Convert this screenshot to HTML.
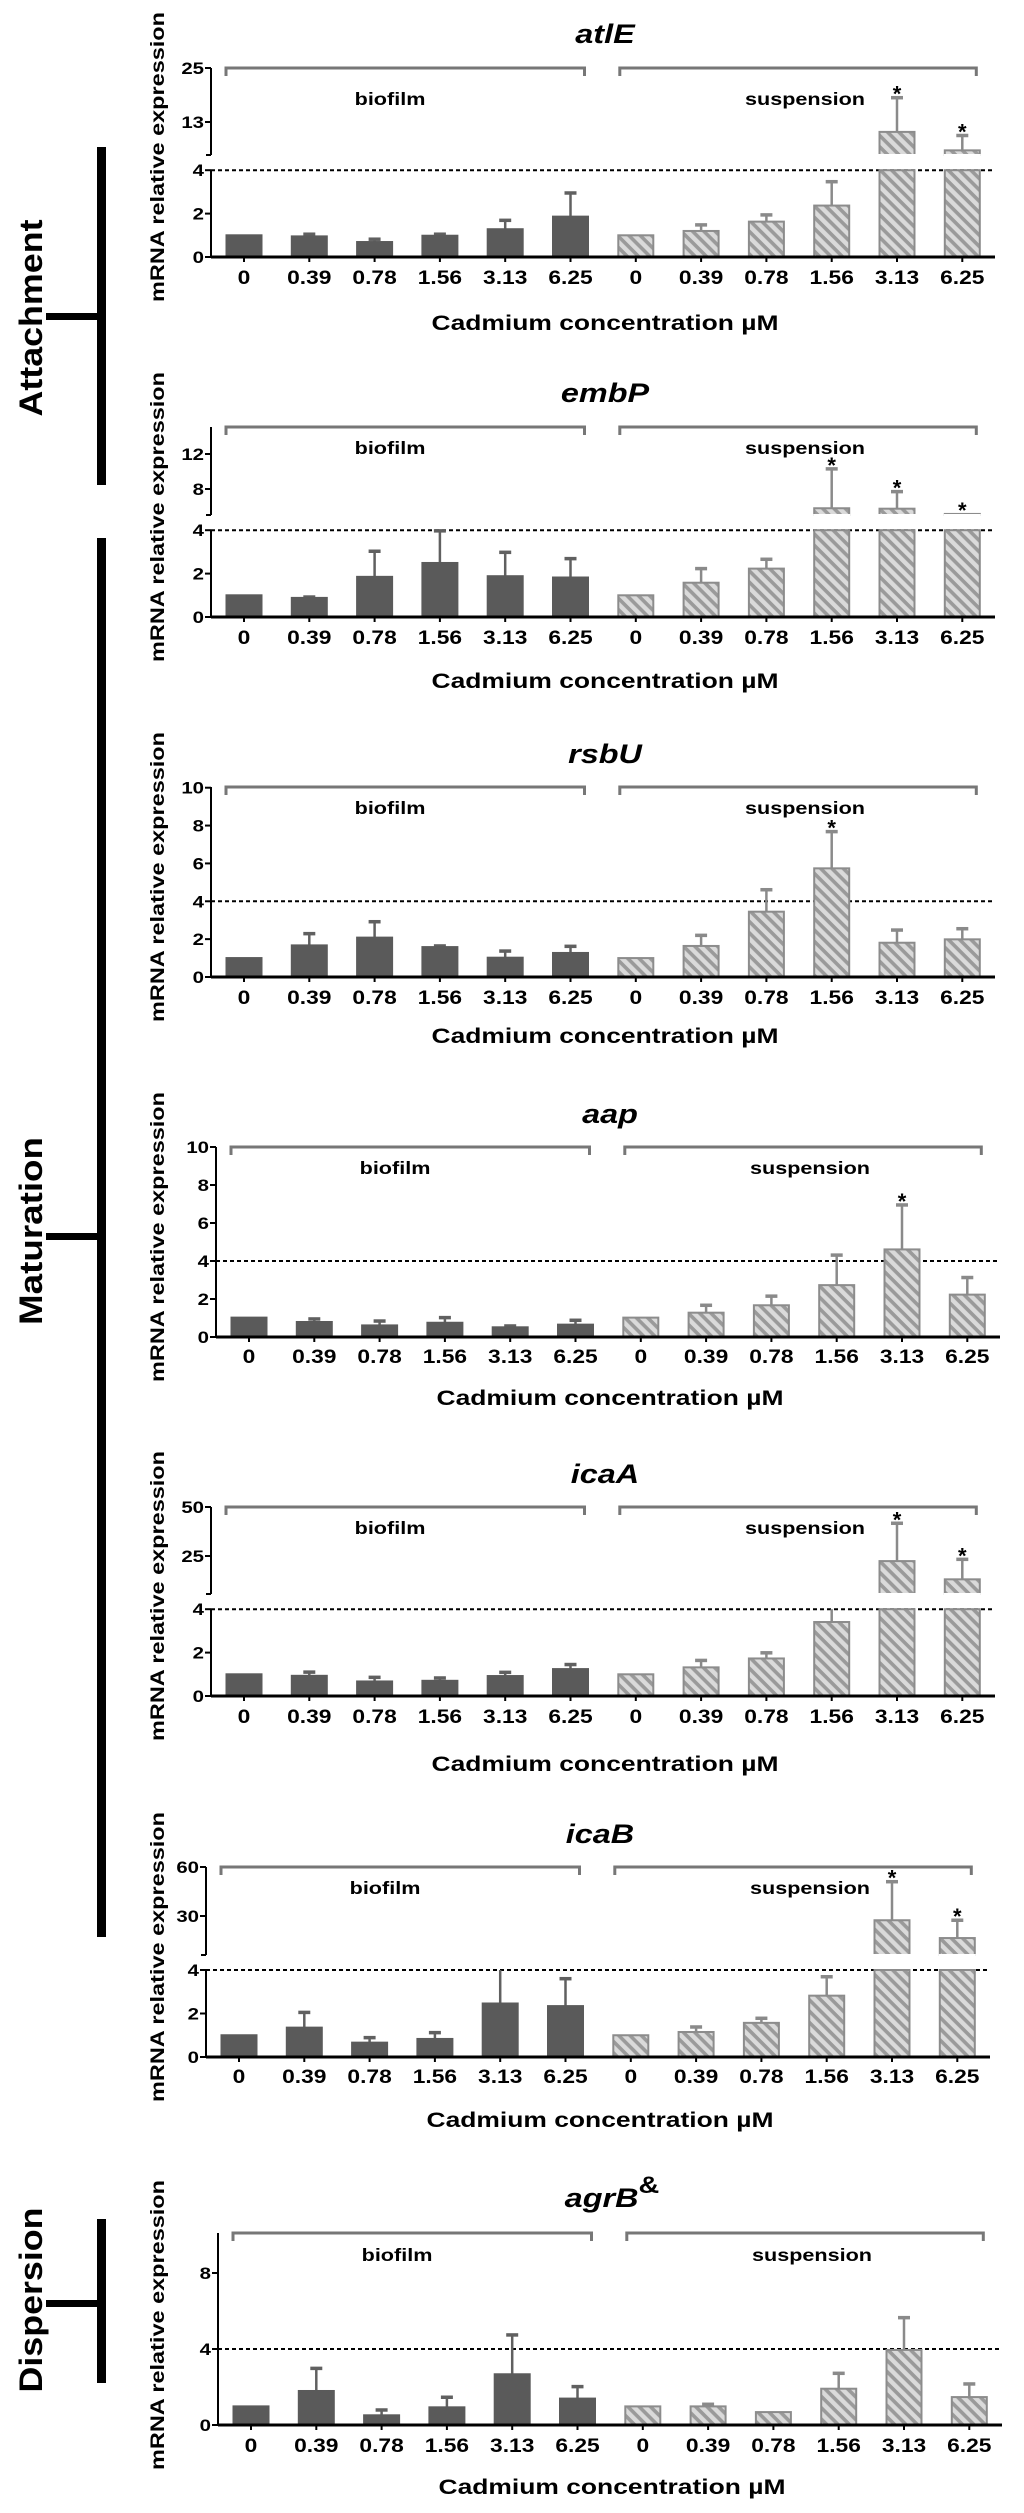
<!DOCTYPE html>
<html><head><meta charset="utf-8"><title>Cadmium gene expression</title>
<style>
html,body{margin:0;padding:0;background:#fff;}
svg{display:block;font-family:"Liberation Sans",Arial,sans-serif;}
</style></head>
<body>
<svg id="fig" width="1024" height="2513" viewBox="0 0 1024 2513" xmlns="http://www.w3.org/2000/svg">
<defs>
<pattern id="hatch" patternUnits="userSpaceOnUse" width="8" height="8" patternTransform="rotate(45)">
<rect width="8" height="8" fill="#dadada"/>
<rect width="8" height="3.6" fill="#9a9a9a"/>
</pattern>
</defs>
<g>
<text transform="translate(42,318) rotate(-90)" text-anchor="middle" font-size="32" font-weight="bold" textLength="197" lengthAdjust="spacingAndGlyphs">Attachment</text>
<rect x="97" y="147" width="9" height="338" fill="#000"/>
<rect x="46" y="313" width="55" height="7" fill="#000"/>
<text transform="translate(42,1231) rotate(-90)" text-anchor="middle" font-size="32" font-weight="bold" textLength="188" lengthAdjust="spacingAndGlyphs">Maturation</text>
<rect x="97" y="538" width="9" height="1399" fill="#000"/>
<rect x="46" y="1233" width="55" height="7" fill="#000"/>
<text transform="translate(42,2300) rotate(-90)" text-anchor="middle" font-size="32" font-weight="bold" textLength="185" lengthAdjust="spacingAndGlyphs">Dispersion</text>
<rect x="97" y="2219" width="9" height="164" fill="#000"/>
<rect x="46" y="2300" width="55" height="7" fill="#000"/>
</g>
</svg>
<script>
const categories = ['0','0.39','0.78','1.56','3.13','6.25'];

const atlE_biofilm = [1.0,0.95,0.69,0.98,1.28,1.86];
const atlE_biofilm_sd = [0,0.10,0.13,0.07,0.41,1.09];
const atlE_susp = [1.0,1.2,1.63,2.37,10.8,6.7];
const atlE_susp_sd = [0,0.28,0.31,1.1,7.6,3.3];
const atlE_stars = [4,5];

const embP_biofilm = [1.0,0.88,1.85,2.49,1.88,1.82];
const embP_biofilm_sd = [0,0.04,1.18,1.48,1.1,0.87];
const embP_susp = [1.0,1.58,2.23,5.8,5.75,5.15];
const embP_susp_sd = [0,0.65,0.43,4.5,1.95,0];
const embP_stars = [3,4,5];

const rsbU_biofilm = [1.0,1.67,2.08,1.58,1.02,1.27];
const rsbU_biofilm_sd = [0,0.62,0.84,0.06,0.35,0.35];
const rsbU_susp = [1.0,1.64,3.45,5.74,1.81,1.99];
const rsbU_susp_sd = [0,0.56,1.16,1.94,0.67,0.56];
const rsbU_stars = [3];

const aap_biofilm = [1.02,0.79,0.61,0.75,0.51,0.65];
const aap_biofilm_sd = [0,0.16,0.23,0.27,0.07,0.23];
const aap_susp = [1.02,1.28,1.67,2.73,4.61,2.23];
const aap_susp_sd = [0,0.39,0.48,1.58,2.34,0.9];
const aap_stars = [4];

const icaA_biofilm = [1.0,0.93,0.67,0.7,0.92,1.24];
const icaA_biofilm_sd = [0,0.17,0.19,0.13,0.17,0.21];
const icaA_susp = [1.0,1.32,1.73,3.41,22.4,13.1];
const icaA_susp_sd = [0,0.32,0.26,0.7,19.3,10.2];
const icaA_stars = [4,5];

const icaB_biofilm = [1.0,1.35,0.66,0.83,2.46,2.34];
const icaB_biofilm_sd = [0,0.7,0.23,0.29,1.8,1.26];
const icaB_susp = [1.0,1.15,1.57,2.82,27.4,16.5];
const icaB_susp_sd = [0,0.23,0.21,0.87,23.6,10.9];
const icaB_stars = [4,5];

const agrB_biofilm = [0.98,1.79,0.51,0.93,2.67,1.39];
const agrB_biofilm_sd = [0,1.19,0.28,0.53,2.07,0.63];
const agrB_susp = [0.98,0.98,0.68,1.91,3.95,1.47];
const agrB_susp_sd = [0,0.11,0,0.81,1.7,0.69];
const agrB_stars = [];

const lowerTicks = [0,2,4];
const atlE_upperTicks = [13,25];
const embP_upperTicks = [8,12];
const linearTicks10 = [0,2,4,6,8,10];
const icaA_upperTicks = [25,50];
const icaB_upperTicks = [30,60];
const agrB_ticks = [0,4,8];

const NS='http://www.w3.org/2000/svg';
const svg=document.getElementById('fig');
function el(tag,attrs,parent){const e=document.createElementNS(NS,tag);for(const k in attrs)e.setAttribute(k,attrs[k]);(parent||svg).appendChild(e);return e;}

const panels=[
 {gene:'atlE',bio:atlE_biofilm,bioSd:atlE_biofilm_sd,sus:atlE_susp,susSd:atlE_susp_sd,stars:atlE_stars,dx:0,base:257,k:21.7,
  upper:{ticks:atlE_upperTicks,yA:122,yB:68,breakY:155},top:68,title:33,bracket:68,btext:98,ticksY:277,xtitle:322},
 {gene:'embP',bio:embP_biofilm,bioSd:embP_biofilm_sd,sus:embP_susp,susSd:embP_susp_sd,stars:embP_stars,dx:0,base:617,k:21.7,
  upper:{ticks:embP_upperTicks,yA:489,yB:454,breakY:515},top:427,title:392,bracket:427,btext:447,ticksY:637,xtitle:680},
 {gene:'rsbU',bio:rsbU_biofilm,bioSd:rsbU_biofilm_sd,sus:rsbU_susp,susSd:rsbU_susp_sd,stars:rsbU_stars,dx:0,base:977,k:18.93,
  ticks:linearTicks10,top:787,title:753,bracket:787,btext:807,ticksY:997,xtitle:1035},
 {gene:'aap',bio:aap_biofilm,bioSd:aap_biofilm_sd,sus:aap_susp,susSd:aap_susp_sd,stars:aap_stars,dx:5,base:1337,k:19,
  ticks:linearTicks10,top:1147,title:1113,bracket:1147,btext:1167,ticksY:1356,xtitle:1397},
 {gene:'icaA',bio:icaA_biofilm,bioSd:icaA_biofilm_sd,sus:icaA_susp,susSd:icaA_susp_sd,stars:icaA_stars,dx:0,base:1696,k:21.7,
  upper:{ticks:icaA_upperTicks,yA:1556,yB:1507,breakY:1594},top:1507,title:1473,bracket:1507,btext:1527,ticksY:1716,xtitle:1763},
 {gene:'icaB',bio:icaB_biofilm,bioSd:icaB_biofilm_sd,sus:icaB_susp,susSd:icaB_susp_sd,stars:icaB_stars,dx:-5,base:2057,k:21.75,
  upper:{ticks:icaB_upperTicks,yA:1916,yB:1867,breakY:1955},top:1867,title:1833,bracket:1867,btext:1887,ticksY:2076,xtitle:2119},
 {gene:'agrB',sup:'&',bio:agrB_biofilm,bioSd:agrB_biofilm_sd,sus:agrB_susp,susSd:agrB_susp_sd,stars:agrB_stars,dx:7,base:2425,k:19,
  ticks:agrB_ticks,top:2233,title:2197,bracket:2233,btext:2254,ticksY:2445,xtitle:2486}
];

function stretchText(g,x,y,str,size,opts){
  const t=el('text',{transform:`translate(${x},${y}) scale(1.2,1)`,'font-size':size,'font-weight':opts&&opts.weight||'bold','text-anchor':opts&&opts.anchor||'middle','font-style':opts&&opts.style||'normal',fill:'#000'},g);
  t.textContent=str;return t;
}

panels.forEach(p=>{
  const g=el('g',{});
  
  
  const dx=p.dx;
  const axisX=211+dx, x0=244+dx, step=65.3, bw=35, xEnd=995+dx;
  const broken=!!p.upper;
  const y4=p.base-4*p.k;
  let breakVal=Infinity, upSlope=0;
  if(broken){const u=p.upper;upSlope=(u.yB-u.yA)/(u.ticks[1]-u.ticks[0]);breakVal=u.ticks[0]+(u.breakY-u.yA)/upSlope;}
  function y(v){
    if(!broken) return p.base-v*p.k;
    if(v<=4) return p.base-v*p.k;
    if(v<breakVal) return y4;
    return p.upper.yA+(v-p.upper.ticks[0])*upSlope;
  }
  const cx=i=>x0+i*step;
  const tt=el('text',{x:605+dx,y:p.title+10,'text-anchor':'middle','font-size':27,'font-weight':'bold','font-style':'italic',transform:`translate(${605+dx},0) scale(1.2,1) translate(${-(605+dx)},0)`},g);
  
  
  tt.textContent=p.gene;
  if(p.sup){const s=el('tspan',{dy:-14,'font-style':'normal','font-size':24},tt);s.textContent=p.sup;}
  const yt=el('text',{transform:`translate(164,${p.base-100}) rotate(-90)`,'text-anchor':'middle','font-size':19,'font-weight':'bold',textLength:290,lengthAdjust:'spacingAndGlyphs'},g);
  
  
  yt.textContent='mRNA relative expression';
  const ya=el('g',{},g);
  
  
  const tickVals = broken? lowerTicks.concat(p.upper.ticks) : p.ticks;
  if(broken){
    el('line',{x1:axisX,y1:p.base,x2:axisX,y2:y4,stroke:'#000','stroke-width':2},ya);
    el('line',{x1:axisX,y1:p.upper.breakY,x2:axisX,y2:p.top,stroke:'#000','stroke-width':2},ya);
    el('line',{x1:axisX-5,y1:p.upper.breakY,x2:axisX,y2:p.upper.breakY,stroke:'#000','stroke-width':2},ya);
  } else {
    el('line',{x1:axisX,y1:p.base,x2:axisX,y2:p.top,stroke:'#000','stroke-width':2},ya);
  }
  tickVals.forEach(v=>{
    const yy=y(v);
    el('line',{x1:axisX-6,y1:yy,x2:axisX,y2:yy,stroke:'#000','stroke-width':2},ya);
    const lb=stretchText(ya,axisX-7,yy+6,String(v),17,{anchor:'end'});
    
    
  });
  const dl=el('line',{x1:axisX,y1:y4,x2:xEnd,y2:y4,stroke:'#000','stroke-width':2,'stroke-dasharray':'4,3'},g);
  
  
  [[x0-18,x0+5*step+14,'biofilm',390+dx],[x0+6*step-16,x0+11*step+14,'suspension',p.gene==='icaB'?815+dx:805+dx]].forEach(b=>{
    const br=el('path',{d:`M${b[0]},${p.bracket+8} V${p.bracket} H${b[1]} V${p.bracket+8}`,fill:'none',stroke:'#777','stroke-width':3},g);
    
    
    const bt=stretchText(g,b[3],p.btext+7,b[2],18,{});
    
    
  });
  function drawBar(i,v,sd,hatched,group){
    const x=cx(i)-bw/2;
    const fill=hatched?'url(#hatch)':'#5a5a5a';
    const stroke=hatched?'#8c8c8c':'#5a5a5a';
    const errc=hatched?'#8a8a8a':'#606060';
    const bg=el('g',{},g);
    
    
    const top=v+sd;
    const e=el('g',{},bg);
    
    
    if(sd>0){
      const yv=y(v), yt=y(top);
      el('line',{x1:cx(i),y1:yv,x2:cx(i),y2:yt,stroke:errc,'stroke-width':2.5},e);
      if(!(broken && top>4 && top<breakVal)) el('line',{x1:cx(i)-6,y1:yt,x2:cx(i)+6,y2:yt,stroke:errc,'stroke-width':3.5},e);
    }
    if(broken && v>=breakVal){
      el('rect',{x:x,y:y4,width:bw,height:p.base-y4,fill:fill,stroke:stroke,'stroke-width':2},bg);
      el('rect',{x:x,y:y(v),width:bw,height:p.upper.breakY-y(v),fill:fill,stroke:stroke,'stroke-width':2},bg);
      el('line',{x1:x-1,y1:p.upper.breakY,x2:x+bw+1,y2:p.upper.breakY,stroke:'#fff','stroke-width':2},bg);
    } else {
      el('rect',{x:x,y:y(v),width:bw,height:p.base-y(v),fill:fill,stroke:stroke,'stroke-width':2},bg);
    }
  }
  p.bio.forEach((v,i)=>drawBar(i,v,p.bioSd[i],false,'biofilm'));
  p.sus.forEach((v,i)=>drawBar(i+6,v,p.susSd[i],true,'suspension'));
  p.stars.forEach(i=>{
    const v=p.sus[i]+p.susSd[i];
    const st=el('text',{x:cx(i+6),y:y(v)+4,'text-anchor':'middle','font-size':22,'font-weight':'bold'},g);
    
    
    st.textContent='*';
  });
  const xa=el('line',{x1:axisX,y1:p.base,x2:xEnd,y2:p.base,stroke:'#000','stroke-width':3},g);
  
  
  for(let i=0;i<12;i++){
    el('line',{x1:cx(i),y1:p.base,x2:cx(i),y2:p.base+5,stroke:'#000','stroke-width':2},g);
    const lb=stretchText(g,cx(i),p.ticksY+7,categories[i%6],19,{});
    
    
  }
  const xt=el('text',{x:605+dx,y:p.xtitle+8,'text-anchor':'middle','font-size':21,'font-weight':'bold',textLength:347,lengthAdjust:'spacingAndGlyphs'},g);
  
  
  xt.textContent='Cadmium concentration µM';
});
</script>
</body></html>
